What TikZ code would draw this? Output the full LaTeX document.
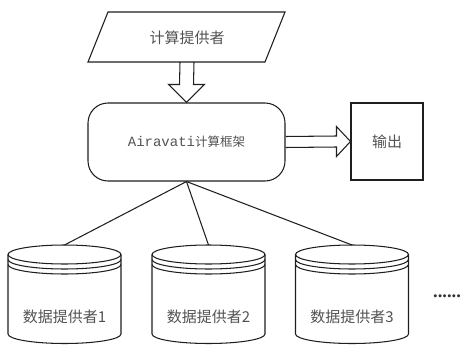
\documentclass[tikz,border=0pt]{standalone}
\usepackage{fontspec}
\setmainfont{Liberation Serif}
\newfontfamily\cjk{Noto Sans CJK SC}
\newfontfamily\monof{Liberation Mono}
\usetikzlibrary{calc}
\tikzset{
  line/.style={draw=black!88, line width=1.05pt},
  lbl/.style={font=\cjk\fontsize{15}{15}\selectfont, text=black!68},
  boxstyle/.style={line, inner sep=0pt},
}
\begin{document}
\begin{tikzpicture}[x=1pt,y=1pt]
\useasboundingbox (0,0) rectangle (462,346);
% compute provider (parallelogram)
\draw[line] (108,334) -- (285,334) -- (265,284) -- (88,284) -- cycle;
\node[lbl] (comp) at (187,308) {计算提供者};
\coordinate (compbot) at (187,284);
% framework
\node[boxstyle, lbl, font=\cjk\fontsize{12.5}{13}\selectfont, rounded corners=20pt, minimum width=197pt, minimum height=78pt] (frame) at (186.5,204)
  {{\monof\fontsize{14}{14}\selectfont Airavati}计算框架};
% output
\node[boxstyle, lbl, minimum width=72pt, minimum height=77pt] (out) at (387,204.5) {输出};
% hollow arrow down
\draw[line, line join=miter] ($(compbot)+(-7,0)$) -- ($(frame.north)+(-7,18)$) -- ($(frame.north)+(-18,18)$)
  -- (frame.north) -- ($(frame.north)+(18,18)$) -- ($(frame.north)+(7,18)$) -- ($(compbot)+(7,0)$);
% hollow arrow right
\draw[line, line join=miter] ($(frame.east)+(0,5.5)$) -- ($(out.west)+(-14,5.5)$) -- ($(out.west)+(-14,15)$)
  -- (out.west) -- ($(out.west)+(-14,-15)$) -- ($(out.west)+(-14,-5.5)$) -- ($(frame.east)+(0,-5.5)$);
% data providers (cylinders)
\foreach \i/\cx in {1/64.5, 2/208.5, 3/352}{
  \draw[line] (\cx,91.5) ellipse [x radius=56.5, y radius=9.5];
  \draw[line] (\cx-56.5,86.5) arc[start angle=180, end angle=360, x radius=56.5, y radius=9.5];
  \draw[line] (\cx-56.5,81.5) arc[start angle=180, end angle=360, x radius=56.5, y radius=9.5];
  \draw[line] (\cx-56.5,91.5) -- (\cx-56.5,12) arc[start angle=180, end angle=360, x radius=56.5, y radius=9.5] -- (\cx+56.5,91.5);
  \coordinate (top\i) at (\cx,101);
  \node[lbl] (dp\i) at (\cx,29) {数据提供者\i};
}
\draw[line] (frame.south) -- (top1);
\draw[line] (frame.south) -- (top2);
\draw[line] (frame.south) -- (top3);
\node[font=\bfseries\fontsize{18.5}{18.5}\selectfont, text=black!80, anchor=base, inner sep=0pt] (dots) at (447,49) {......};
\end{tikzpicture}
\end{document}
